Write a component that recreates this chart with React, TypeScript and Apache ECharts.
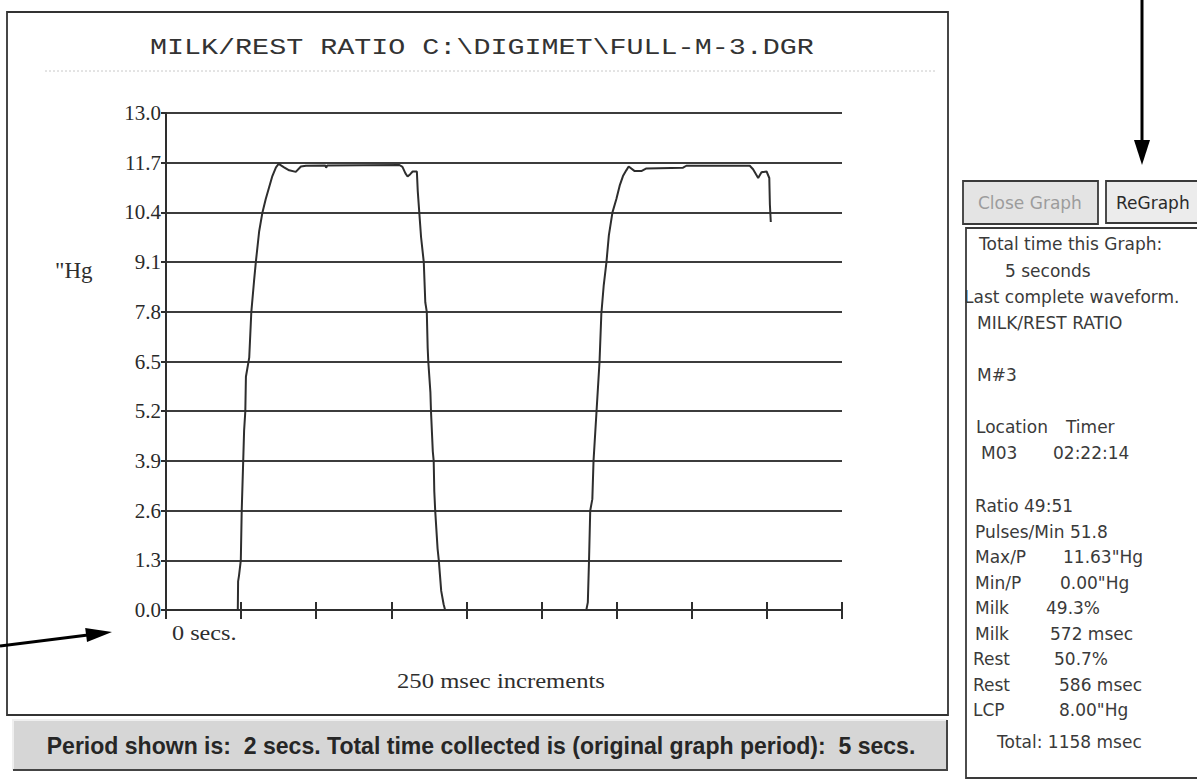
import React, { useEffect, useRef } from 'react';
import * as echarts from 'echarts';

// ---- data ----
const titleText = 'MILK/REST RATIO C:\\DIGIMET\\FULL-M-3.DGR';
const yUnit = '"Hg';
const xStartLabel = '0 secs.';
const xTitle = '250 msec increments';
const periodText = 'Period shown is:  2 secs. Total time collected is (original graph period):  5 secs.';

const yMin = 0;
const yMax = 13;
const yStep = 1.3;
const xMin = 0;
const xMax = 2250;
const xStep = 250;

const timeMs = [
  0, 236, 239, 240, 243, 249, 252, 257, 260, 264, 266, 277, 284, 293, 299, 310, 321, 332, 343, 354, 366, 375,
  393, 410, 432, 449, 466, 530, 533, 537, 777, 787, 797, 804, 813, 821, 835, 838, 843, 849, 858, 863, 868,
  871, 873, 880, 882, 888, 891, 893, 896, 904, 908, 916, 924, 929,
  1399, 1404, 1408, 1412, 1419, 1423, 1433, 1443, 1449, 1457, 1466, 1474, 1486, 1499, 1510, 1521, 1532,
  1540, 1560, 1582, 1599, 1721, 1732, 1943, 1954, 1971, 1982, 1999, 2008, 2010, 2013,
];
const pressureHg = [
  0, 0, 0, 0.75, 0.9, 1.3, 2.6, 3.9, 4.7, 5.2, 6.1, 6.6, 7.8, 8.6, 9.1, 9.9, 10.4, 10.75, 11.05, 11.35, 11.58, 11.67,
  11.58, 11.5, 11.46, 11.6, 11.62, 11.63, 11.57, 11.63, 11.64, 11.59, 11.42, 11.34, 11.4, 11.47, 11.47, 10.95, 10.4, 9.75, 9.1, 8.05, 7.8,
  6.85, 6.5, 5.7, 5.2, 4.15, 3.9, 3.1, 2.6, 1.6, 1.3, 0.5, 0.15, 0,
  0, 0.2, 1.3, 2.6, 2.9, 3.9, 5.2, 6.5, 7.75, 8.5, 9.1, 9.8, 10.4, 10.75, 11.1, 11.35, 11.5,
  11.6, 11.48, 11.48, 11.55, 11.57, 11.62, 11.62, 11.53, 11.3, 11.45, 11.47, 11.3, 10.6, 10.15,
];

const buttonLabels = ['Close Graph', 'ReGraph'];
const headerLines = ['Total time this Graph:', '5 seconds', 'Last complete waveform.', 'MILK/REST RATIO', 'M#3'];
const locationHeads = ['Location', 'Timer'];
const locationValues = ['M03', '02:22:14'];
const statLabels = ['Ratio 49:51', 'Pulses/Min 51.8', 'Max/P', 'Min/P', 'Milk', 'Milk', 'Rest', 'Rest', 'LCP'];
const statValues = ['', '', '11.63"Hg', '0.00"Hg', '49.3%', '572 msec', '50.7%', '586 msec', '8.00"Hg'];
const totalLine = 'Total: 1158 msec';

export default function App() {
  const ref = useRef<HTMLDivElement>(null);

  useEffect(() => {
    const el = ref.current;
    if (!el) return;
    const chart = echarts.init(el, null, { renderer: 'svg' });

    const ink = '#333333';
    const txt = (
      text: string,
      x: number,
      y: number,
      o: { size?: number; family?: string; weight?: string; fill?: string; align?: string; scaleX?: number } = {}
    ) => ({
      type: 'text',
      x,
      y,
      scaleX: o.scaleX ?? 1,
      z: 20,
      style: {
        text,
        x: 0,
        y: 0,
        fill: o.fill ?? '#3a3a3a',
        fontSize: o.size ?? 17,
        fontFamily: o.family ?? 'DejaVu Sans',
        fontWeight: o.weight ?? 'normal',
        align: o.align ?? 'left',
        textAlign: o.align ?? 'left',
        verticalAlign: 'middle',
        textVerticalAlign: 'middle',
      },
    });

    const statY0 = 506;
    const statDy = 25.5;
    const statValueX = [0, 0, 1063, 1060, 1046, 1050, 1054, 1059, 1059];
    const statLabelX = [975, 975, 975, 975, 975, 975, 973, 973, 973];

    const graphic: any[] = [
      // chart frame
      { type: 'rect', z: 1, shape: { x: 7, y: 12, width: 941, height: 703 }, style: { fill: 'none', stroke: ink, lineWidth: 1.8 } },
      // dotted title underline
      { type: 'line', z: 1, shape: { x1: 45, y1: 71, x2: 935, y2: 71 }, style: { stroke: '#c8c8c8', lineWidth: 1, lineDash: [2, 2] } },
      txt(titleText, 150, 48, { size: 22, family: 'Liberation Mono', fill: '#333', scaleX: 1.29 }),
      txt(yUnit, 55, 270, { size: 23, family: 'Liberation Serif', fill: '#2e2e2e' }),
      txt(xStartLabel, 172, 632, { size: 22, family: 'Liberation Serif', fill: '#2e2e2e', scaleX: 1.1 }),
      txt(xTitle, 501, 680, { size: 22, family: 'Liberation Serif', fill: '#2e2e2e', align: 'center', scaleX: 1.12 }),

      // bottom status bar
      { type: 'rect', z: 1, shape: { x: 13, y: 720, width: 934, height: 50 }, style: { fill: '#d6d6d6' } },
      { type: 'polyline', z: 2, shape: { points: [[13, 770], [13, 720], [947, 720]] }, style: { stroke: '#efefef', lineWidth: 2, fill: 'none' } },
      { type: 'polyline', z: 2, shape: { points: [[13, 770], [947, 770], [947, 720]] }, style: { stroke: '#444', lineWidth: 2, fill: 'none' } },
      txt(periodText, 481, 746, { size: 24, family: 'Liberation Sans', weight: 'bold', fill: '#262626', align: 'center', scaleX: 0.96 }),

      // buttons
      { type: 'rect', z: 1, shape: { x: 963, y: 181, width: 135, height: 43 }, style: { fill: '#e4e4e4', stroke: '#3a3a3a', lineWidth: 1.8 } },
      { type: 'rect', z: 1, shape: { x: 1106, y: 181, width: 100, height: 42 }, style: { fill: '#ececec', stroke: '#3a3a3a', lineWidth: 1.8 } },
      txt(buttonLabels[0], 978, 203, { size: 17, fill: '#9c9c9c' }),
      txt(buttonLabels[1], 1116, 203, { size: 17, fill: '#2a2a2a' }),

      // info panel
      { type: 'rect', z: 1, shape: { x: 966, y: 228, width: 240, height: 550 }, style: { fill: '#fff', stroke: '#3a3a3a', lineWidth: 1.8 } },
      txt(headerLines[0], 979, 244),
      txt(headerLines[1], 1005, 271),
      txt(headerLines[2], 964, 297),
      txt(headerLines[3], 977, 323),
      txt(headerLines[4], 977, 375),
      txt(locationHeads[0], 976, 427),
      txt(locationHeads[1], 1066, 427),
      txt(locationValues[0], 981, 453),
      txt(locationValues[1], 1053, 453),
      ...statLabels.map((s, i) => txt(s, statLabelX[i], statY0 + i * statDy)),
      ...statValues.filter((v) => v !== '').map((v, k) => {
        const i = k + 2;
        return txt(v, statValueX[i], statY0 + i * statDy);
      }),
      txt(totalLine, 997, 742),

      // top-right annotation arrow
      { type: 'line', z: 30, shape: { x1: 1142, y1: 0, x2: 1142, y2: 142 }, style: { stroke: '#000', lineWidth: 3 } },
      { type: 'polygon', z: 30, shape: { points: [[1134, 140], [1150, 140], [1142, 165]] }, style: { fill: '#000' } },
      // left annotation arrow
      { type: 'line', z: 30, shape: { x1: 0, y1: 646, x2: 88, y2: 635 }, style: { stroke: '#000', lineWidth: 3 } },
      { type: 'polygon', z: 30, shape: { points: [[85.2, 628], [87, 642], [112, 632]] }, style: { fill: '#000' } },
    ];

    const axisLine = { color: '#2e2e2e', width: 2 };

    chart.setOption({
      animation: false,
      backgroundColor: '#ffffff',
      grid: { left: 166, top: 113, width: 676, height: 497, containLabel: false },
      xAxis: [
        {
          type: 'value',
          min: xMin,
          max: xMax,
          interval: xStep,
          axisLine: { show: true, lineStyle: axisLine },
          axisTick: { show: true, length: 9, lineStyle: axisLine },
          axisLabel: { show: false },
          splitLine: { show: false },
        },
        {
          type: 'value',
          min: xMin,
          max: xMax,
          interval: xStep,
          position: 'bottom',
          axisLine: { show: false },
          axisTick: { show: true, inside: true, length: 8, lineStyle: axisLine },
          axisLabel: { show: false },
          splitLine: { show: false },
        },
      ],
      yAxis: {
        type: 'value',
        min: yMin,
        max: yMax,
        interval: yStep,
        axisLine: { show: true, lineStyle: axisLine },
        axisTick: { show: true, length: 5, lineStyle: axisLine },
        axisLabel: {
          formatter: (v: number) => v.toFixed(1),
          fontFamily: 'Liberation Serif',
          fontSize: 21,
          color: '#2a2a2a',
          margin: 5,
        },
        splitLine: { show: true, lineStyle: { color: '#3c3c3c', width: 2 } },
      },
      series: [
        {
          type: 'line',
          xAxisIndex: 0,
          data: timeMs.map((t, i) => [t, pressureHg[i]]),
          showSymbol: false,
          symbol: 'none',
          lineStyle: { color: '#2e2e2e', width: 2 },
          z: 5,
        },
      ],
      graphic,
    });

    return () => chart.dispose();
  }, []);

  return (
    <div
      ref={ref}
      style={{ position: 'fixed', left: 0, top: 0, width: 1197, height: 781, background: '#fff' }}
    />
  );
}
